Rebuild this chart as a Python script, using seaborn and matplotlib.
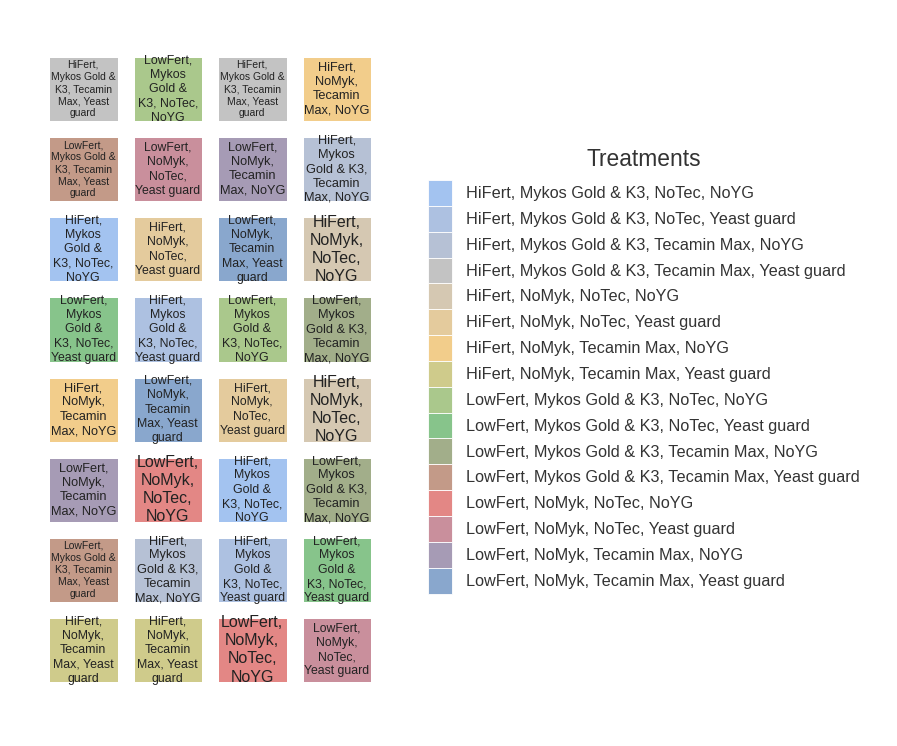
import matplotlib
matplotlib.use("Agg")
import matplotlib.pyplot as plt
import numpy as np
import seaborn as sns
from matplotlib.colors import ListedColormap
from matplotlib.patches import Patch, Rectangle

# treatments (legend order) and their colours
treatments = [
    "HiFert, Mykos Gold & K3, NoTec, NoYG",
    "HiFert, Mykos Gold & K3, NoTec, Yeast guard",
    "HiFert, Mykos Gold & K3, Tecamin Max, NoYG",
    "HiFert, Mykos Gold & K3, Tecamin Max, Yeast guard",
    "HiFert, NoMyk, NoTec, NoYG",
    "HiFert, NoMyk, NoTec, Yeast guard",
    "HiFert, NoMyk, Tecamin Max, NoYG",
    "HiFert, NoMyk, Tecamin Max, Yeast guard",
    "LowFert, Mykos Gold & K3, NoTec, NoYG",
    "LowFert, Mykos Gold & K3, NoTec, Yeast guard",
    "LowFert, Mykos Gold & K3, Tecamin Max, NoYG",
    "LowFert, Mykos Gold & K3, Tecamin Max, Yeast guard",
    "LowFert, NoMyk, NoTec, NoYG",
    "LowFert, NoMyk, NoTec, Yeast guard",
    "LowFert, NoMyk, Tecamin Max, NoYG",
    "LowFert, NoMyk, Tecamin Max, Yeast guard",
]
colors = [
    "#a3c3f0", "#adc1e1", "#b6c1d5", "#c3c3c3",
    "#d5c8b2", "#e4cb9d", "#f2cd8b", "#cfcb8b",
    "#aac88c", "#87c48b", "#a2ae8a", "#c39a88",
    "#e38785", "#c98f9c", "#a69bb5", "#89a7cd",
]

# how each label is wrapped inside a tile, and its text size
tile_labels = [
    "HiFert,\nMykos\nGold &\nK3, NoTec,\nNoYG",
    "HiFert,\nMykos\nGold &\nK3, NoTec,\nYeast guard",
    "HiFert,\nMykos\nGold & K3,\nTecamin\nMax, NoYG",
    "HiFert,\nMykos Gold &\nK3, Tecamin\nMax, Yeast\nguard",
    "HiFert,\nNoMyk,\nNoTec,\nNoYG",
    "HiFert,\nNoMyk,\nNoTec,\nYeast guard",
    "HiFert,\nNoMyk,\nTecamin\nMax, NoYG",
    "HiFert,\nNoMyk,\nTecamin\nMax, Yeast\nguard",
    "LowFert,\nMykos\nGold &\nK3, NoTec,\nNoYG",
    "LowFert,\nMykos\nGold &\nK3, NoTec,\nYeast guard",
    "LowFert,\nMykos\nGold & K3,\nTecamin\nMax, NoYG",
    "LowFert,\nMykos Gold &\nK3, Tecamin\nMax, Yeast\nguard",
    "LowFert,\nNoMyk,\nNoTec,\nNoYG",
    "LowFert,\nNoMyk,\nNoTec,\nYeast guard",
    "LowFert,\nNoMyk,\nTecamin\nMax, NoYG",
    "LowFert,\nNoMyk,\nTecamin\nMax, Yeast\nguard",
]
label_sizes = [8.9, 8.8, 9.2, 7.5, 11.5, 8.8, 9.2, 8.9,
               8.9, 8.8, 9.2, 7.5, 11.5, 8.8, 9.2, 8.9]

# field layout: treatment index of every plot, 8 rows x 4 columns
layout = np.array([
    [3, 8, 3, 6],
    [11, 13, 14, 2],
    [0, 5, 15, 4],
    [9, 1, 8, 10],
    [6, 15, 5, 4],
    [14, 12, 0, 10],
    [11, 2, 1, 9],
    [7, 7, 12, 13],
])

fig = plt.figure(figsize=(8.97, 7.46), dpi=100)
ax = fig.add_axes([41 / 897, 1 - 690 / 746, 338 / 897, 641 / 746])

annot = np.array([[tile_labels[v] for v in row] for row in layout])
sns.heatmap(layout, cmap=ListedColormap(colors), vmin=-0.5, vmax=15.5,
            cbar=False, linewidths=11, linecolor="white",
            annot=annot, fmt="", xticklabels=False, yticklabels=False,
            annot_kws={"color": "#222222", "family": "Liberation Sans",
                       "linespacing": 1.26},
            ax=ax)

# resize and clip the labels to their tiles
gap = 0.1
for t in ax.texts:
    x, y = t.get_position()
    c, r = int(x), int(y)
    idx = layout[r, c]
    t.set_fontsize(label_sizes[idx])
    t.set_color("#222222")
    clip = Rectangle((c + gap, r + gap), 1 - 2 * gap, 1 - 2 * gap,
                     transform=ax.transData)
    t.set_clip_path(clip)
ax.set_axis_off()

handles = [Patch(facecolor=col, edgecolor="white", linewidth=0.6)
           for col in colors]
leg = fig.legend(handles, treatments, title="Treatments",
                 loc="upper left", bbox_to_anchor=(428 / 897, 1 - 148 / 746),
                 frameon=False, borderpad=0, borderaxespad=0, labelspacing=0,
                 handlelength=1.48, handleheight=2.07, handletextpad=0.86,
                 prop={"family": "Liberation Sans", "size": 11.7},
                 title_fontproperties={"family": "Liberation Sans", "size": 16.4})
for txt in leg.get_texts():
    txt.set_color("#333333")
leg.get_title().set_color("#333333")
leg._legend_box.sep = 6.5

fig.savefig("out.png", dpi=100)
